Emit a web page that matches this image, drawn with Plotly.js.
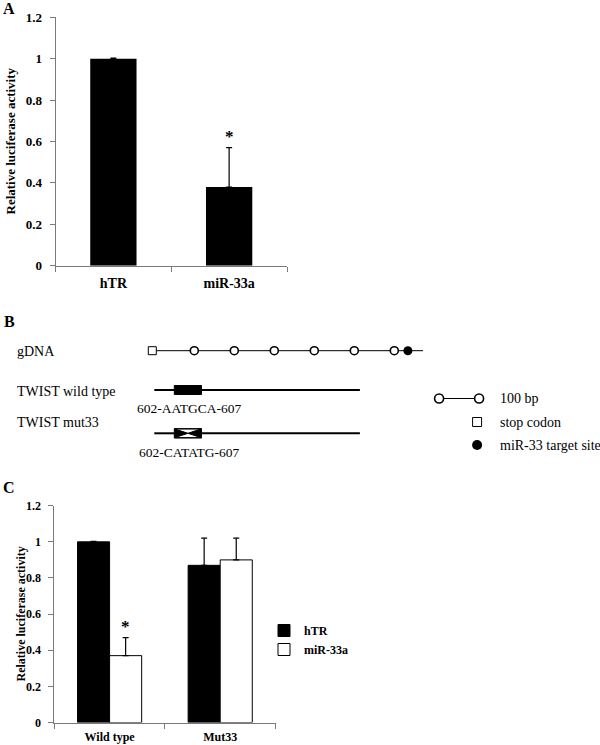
<!DOCTYPE html>
<html>
<head>
<meta charset="utf-8">
<script src="https://cdn.plot.ly/plotly-3.0.1.min.js"></script>
<style>
html,body{margin:0;padding:0;background:#fff;}
#chart{width:600px;height:745px;}
</style>
</head>
<body>
<div id="chart"></div>
<script>
// ---------- Panel A data ----------
const panelACategories = ['hTR', 'miR-33a'];
const panelAValues = [1.0, 0.38];
const panelAErrors = [0.003, 0.19];

// ---------- Panel C data ----------
const panelCCategories = ['Wild type', 'Mut33'];
const panelCSeries = ['hTR', 'miR-33a'];
const panelCHtrValues = [1.0, 0.87];
const panelCHtrErrors = [0.003, 0.15];
const panelCMirValues = [0.37, 0.90];
const panelCMirErrors = [0.10, 0.12];

const yTickValues = [0, 0.2, 0.4, 0.6, 0.8, 1, 1.2];
const yAxisTitle = 'Relative luciferase activity';

// ---------- Panel B (schematic, positions in bp) ----------
const gdnaStopCodon = -5;
const gdnaMarks = [100, 200, 300, 400, 500, 600];
const gdnaTargetSite = 634;
const gdnaEnd = 672;
const constructStart = 0;
const constructEnd = 514;
const siteStart = 50;
const siteEnd = 118;
const rowLabels = ['gDNA', 'TWIST wild type', 'TWIST mut33'];
const siteLabels = ['602-AATGCA-607', '602-CATATG-607'];
const scaleBar = [712, 812];
const keyLabels = ['100 bp', 'stop codon', 'miR-33 target site'];

// ---------- styling / geometry ----------
const W = 600, H = 745;
const serif = 'Liberation Serif, Times New Roman, serif';
const axisGray = '#7a7a7a';
const py = p => 1 - p / H;       // page pixel y -> paper
const px = p => p / W;           // page pixel x -> paper
const cBargap = 0.42;

// diagram row heights (page pixel units on the hidden y3 axis)
const rowY = {gdna: 350.7, wt: 390, mut: 433.3};
const labelY = {gdna: 351, wt: 391, mut: 422};
const seqY = {wt: 408, mut: 452};
const keyY = [398.5, 422, 445];
const keyX = 807;
const keyTextX = 858;
const boxHalf = 4.5;

const traces = [];

// Panel A bars
traces.push({
  type: 'bar', x: panelACategories, y: panelAValues, xaxis: 'x', yaxis: 'y',
  width: 0.4, showlegend: false,
  marker: {color: '#000', line: {width: 0}},
  error_y: {type: 'data', symmetric: false, array: panelAErrors,
            arrayminus: panelAErrors.map(() => 0), color: '#000', thickness: 1.2, width: 3}
});

// Panel C bars
traces.push({
  type: 'bar', name: panelCSeries[0], x: panelCCategories, y: panelCHtrValues,
  xaxis: 'x2', yaxis: 'y2', legendgroup: 'c',
  marker: {color: '#000', line: {color: '#000', width: 1}},
  error_y: {type: 'data', symmetric: false, array: panelCHtrErrors,
            arrayminus: panelCHtrErrors.map(() => 0), color: '#000', thickness: 1.2, width: 3}
});
traces.push({
  type: 'bar', name: panelCSeries[1], x: panelCCategories, y: panelCMirValues,
  xaxis: 'x2', yaxis: 'y2', legendgroup: 'c',
  marker: {color: '#fff', line: {color: '#000', width: 1}},
  error_y: {type: 'data', symmetric: false, array: panelCMirErrors,
            arrayminus: panelCMirErrors.map(() => 0), color: '#000', thickness: 1.2, width: 3}
});

// Panel B schematic
const d = {xaxis: 'x3', yaxis: 'y3', showlegend: false, hoverinfo: 'skip'};
// gDNA backbone
traces.push(Object.assign({type: 'scatter', mode: 'lines',
  x: [gdnaStopCodon, gdnaEnd], y: [rowY.gdna, rowY.gdna],
  line: {color: '#000', width: 1}}, d));
// 100 bp marks
traces.push(Object.assign({type: 'scatter', mode: 'markers',
  x: gdnaMarks, y: gdnaMarks.map(() => rowY.gdna),
  marker: {symbol: 'circle', size: 8, color: '#fff', line: {color: '#000', width: 1.6}}}, d));
// stop codon
traces.push(Object.assign({type: 'scatter', mode: 'markers',
  x: [gdnaStopCodon], y: [rowY.gdna],
  marker: {symbol: 'square', size: 8, color: '#fff', line: {color: '#000', width: 1}}}, d));
// miR-33 target site
traces.push(Object.assign({type: 'scatter', mode: 'markers',
  x: [gdnaTargetSite], y: [rowY.gdna],
  marker: {symbol: 'circle', size: 9, color: '#000', line: {width: 0}}}, d));
// TWIST wild type
traces.push(Object.assign({type: 'scatter', mode: 'lines',
  x: [constructStart, constructEnd], y: [rowY.wt, rowY.wt],
  line: {color: '#000', width: 2}}, d));
traces.push(Object.assign({type: 'scatter', mode: 'lines', fill: 'toself', fillcolor: '#000',
  x: [siteStart, siteEnd, siteEnd, siteStart, siteStart],
  y: [rowY.wt - boxHalf, rowY.wt - boxHalf, rowY.wt + boxHalf, rowY.wt + boxHalf, rowY.wt - boxHalf],
  line: {color: '#000', width: 1}}, d));
// TWIST mut33
traces.push(Object.assign({type: 'scatter', mode: 'lines',
  x: [constructStart, siteStart, null, siteEnd, constructEnd],
  y: [rowY.mut, rowY.mut, null, rowY.mut, rowY.mut],
  line: {color: '#000', width: 2}}, d));
traces.push(Object.assign({type: 'scatter', mode: 'lines', fill: 'toself', fillcolor: '#000',
  x: [siteStart, siteEnd, siteEnd, siteStart, siteStart],
  y: [rowY.mut - boxHalf, rowY.mut + boxHalf, rowY.mut - boxHalf, rowY.mut + boxHalf, rowY.mut - boxHalf],
  line: {color: '#000', width: 1}}, d));
traces.push(Object.assign({type: 'scatter', mode: 'lines',
  x: [siteStart, siteEnd, null, siteStart, siteEnd],
  y: [rowY.mut - boxHalf, rowY.mut - boxHalf, null, rowY.mut + boxHalf, rowY.mut + boxHalf],
  line: {color: '#000', width: 1.5}}, d));
// key
traces.push(Object.assign({type: 'scatter', mode: 'lines+markers',
  x: scaleBar, y: [keyY[0], keyY[0]],
  line: {color: '#000', width: 1},
  marker: {symbol: 'circle', size: 9, color: '#fff', line: {color: '#000', width: 1.6}}}, d));
traces.push(Object.assign({type: 'scatter', mode: 'markers',
  x: [keyX], y: [keyY[1]],
  marker: {symbol: 'square', size: 9, color: '#fff', line: {color: '#000', width: 1}}}, d));
traces.push(Object.assign({type: 'scatter', mode: 'markers',
  x: [keyX], y: [keyY[2]],
  marker: {symbol: 'circle', size: 10, color: '#000', line: {width: 0}}}, d));

const tf = (size, weight) => ({family: serif, size: size, color: '#000', weight: weight || 'normal'});

const annotations = [];
// panel letters
annotations.push({xref: 'paper', yref: 'paper', x: px(1), y: py(8), xanchor: 'left', yanchor: 'middle',
  text: 'A', showarrow: false, font: tf(16, 'bold')});
annotations.push({xref: 'paper', yref: 'paper', x: px(2), y: py(321), xanchor: 'left', yanchor: 'middle',
  text: 'B', showarrow: false, font: tf(16, 'bold')});
annotations.push({xref: 'paper', yref: 'paper', x: px(1), y: py(487), xanchor: 'left', yanchor: 'middle',
  text: 'C', showarrow: false, font: tf(16, 'bold')});
// y titles
annotations.push({xref: 'paper', yref: 'paper', x: px(10), y: py(141.5), xanchor: 'center', yanchor: 'middle',
  textangle: -90, text: yAxisTitle, showarrow: false, font: tf(13, 'bold')});
annotations.push({xref: 'paper', yref: 'paper', x: px(20.5), y: py(614), xanchor: 'center', yanchor: 'middle',
  textangle: -90, text: yAxisTitle, showarrow: false, font: tf(12, 'bold')});
// significance stars
annotations.push({xref: 'x', yref: 'y', x: panelACategories[1], y: panelAValues[1] + panelAErrors[1],
  xanchor: 'center', yanchor: 'bottom', text: '*', showarrow: false, font: tf(17, 'bold')});
annotations.push({xref: 'x2', yref: 'y2', x: 0 + (1 - cBargap) / 4, y: panelCMirValues[0] + panelCMirErrors[0],
  xanchor: 'center', yanchor: 'bottom', text: '*', showarrow: false, font: tf(17, 'bold')});
// diagram row labels
[labelY.gdna, labelY.wt, labelY.mut].forEach((yy, i) => annotations.push({
  xref: 'paper', yref: 'y3', x: px(15), y: yy, xanchor: 'left', yanchor: 'middle',
  text: rowLabels[i], showarrow: false, font: tf(14)}));
// site sequence labels
[seqY.wt, seqY.mut].forEach((yy, i) => annotations.push({
  xref: 'x3', yref: 'y3', x: (siteStart + siteEnd) / 2 + 3, y: yy, xanchor: 'center', yanchor: 'middle',
  text: siteLabels[i], showarrow: false, font: tf(13.5)}));
// key labels
keyY.forEach((yy, i) => annotations.push({
  xref: 'x3', yref: 'y3', x: keyTextX, y: yy, xanchor: 'left', yanchor: 'middle',
  text: keyLabels[i], showarrow: false, font: tf(14)}));

const baseAxis = {showgrid: false, zeroline: false, showline: true, linecolor: axisGray, linewidth: 1,
  ticks: 'outside', ticklen: 5, tickcolor: axisGray, tickwidth: 1, fixedrange: true};

const layout = {
  width: W, height: H, autosize: false,
  margin: {l: 0, r: 0, t: 0, b: 0, pad: 0},
  paper_bgcolor: '#fff', plot_bgcolor: 'rgba(0,0,0,0)',
  barmode: 'group', bargap: cBargap, bargroupgap: 0,
  showlegend: true,
  legend: {x: px(264), y: py(616), xanchor: 'left', yanchor: 'top', font: tf(12, 'bold'),
           bgcolor: 'rgba(0,0,0,0)', borderwidth: 0, tracegroupgap: 0, itemwidth: 30},
  xaxis: Object.assign({}, baseAxis, {domain: [px(55.5), px(287)], anchor: 'y', type: 'category',
    tickson: 'boundaries', tickfont: tf(14, 'bold'), ticklabelstandoff: 4}),
  yaxis: Object.assign({}, baseAxis, {domain: [py(265.7), py(17.3)], anchor: 'x', range: [0, 1.2],
    tickvals: yTickValues, tickfont: tf(13, 'bold'), ticklabelstandoff: 5}),
  xaxis2: Object.assign({}, baseAxis, {domain: [px(54.3), px(275.5)], anchor: 'y2', type: 'category',
    tickson: 'boundaries', tickfont: tf(12, 'bold'), ticklabelstandoff: 3}),
  yaxis2: Object.assign({}, baseAxis, {domain: [py(722.5), py(505.7)], anchor: 'x2', range: [0, 1.2],
    tickvals: yTickValues, tickfont: tf(12, 'bold'), ticklabelstandoff: 5}),
  xaxis3: {domain: [0, 1], range: [(0 - 154.3) / 0.4, (600 - 154.3) / 0.4], visible: false,
    fixedrange: true, anchor: 'y3'},
  yaxis3: {domain: [py(480), py(300)], range: [480, 300], visible: false, fixedrange: true, anchor: 'x3'},
  annotations: annotations
};

Plotly.newPlot('chart', traces, layout, {staticPlot: true, displayModeBar: false});
</script>
</body>
</html>
